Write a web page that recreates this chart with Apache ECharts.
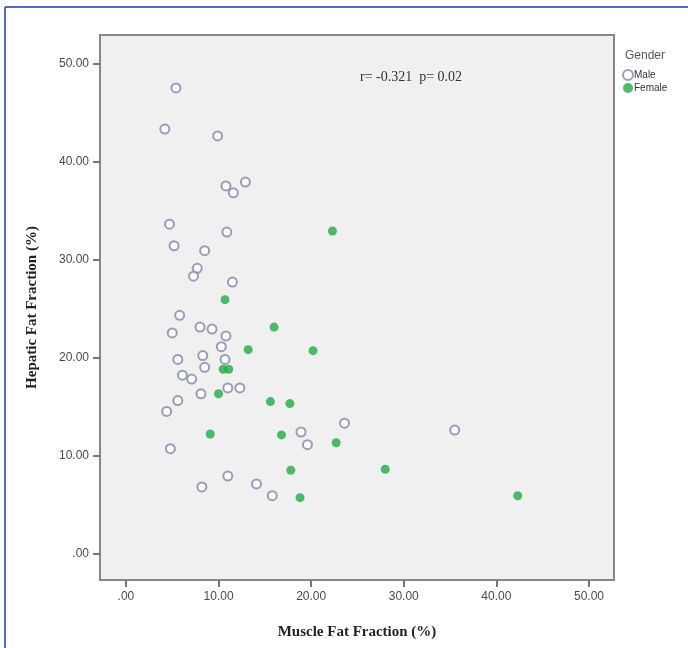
<!DOCTYPE html>
<html>
<head>
<meta charset="utf-8">
<script src="https://cdn.jsdelivr.net/npm/echarts@6/dist/echarts.min.js"></script>
<style>
  html, body { margin: 0; padding: 0; background: #fff; }
  #main { width: 688px; height: 648px; }
</style>
</head>
<body>
<div id="main"></div>
<script>
// muscle fat fraction (x) / hepatic fat fraction (y)
const maleX = [5.4, 4.2, 9.9, 10.8, 11.6, 12.9, 4.7, 10.9, 5.2, 8.5, 7.7, 7.3, 11.5,
  5.8, 8.0, 9.3, 5.0, 10.8, 10.3, 5.6, 8.3, 10.7, 8.5, 6.1, 7.1, 11.0, 12.3, 8.1,
  5.6, 4.4, 23.6, 18.9, 19.6, 4.8, 35.5, 11.0, 14.1, 8.2, 15.8];
const maleY = [47.5, 43.3, 42.6, 37.5, 36.8, 37.9, 33.6, 32.8, 31.4, 30.9, 29.1, 28.3, 27.7,
  24.3, 23.1, 22.9, 22.5, 22.2, 21.1, 19.8, 20.2, 19.8, 19.0, 18.2, 17.8, 16.9, 16.9, 16.3,
  15.6, 14.5, 13.3, 12.4, 11.1, 10.7, 12.6, 7.9, 7.1, 6.8, 5.9];
const femaleX = [22.3, 10.7, 16.0, 13.2, 20.2, 10.5, 11.1, 10.0, 15.6, 17.7, 9.1, 16.8,
  22.7, 17.8, 28.0, 18.8, 42.3];
const femaleY = [32.9, 25.9, 23.1, 20.8, 20.7, 18.8, 18.8, 16.3, 15.5, 15.3, 12.2, 12.1,
  11.3, 8.5, 8.6, 5.7, 5.9];
const tickValues = [0, 10, 20, 30, 40, 50];
const statText = 'r= -0.321  p= 0.02';

const pairs = (xs, ys) => xs.map((x, i) => [x, ys[i]]);
const fmt = v => (v === 0 ? '.00' : v.toFixed(2));

const chart = echarts.init(document.getElementById('main'));

const axisCommon = {
  type: 'value',
  splitLine: { show: false },
  axisLine: { show: false, onZero: false },
  axisTick: {
    show: true,
    customValues: tickValues,
    length: 7,
    lineStyle: { color: '#777', width: 2 }
  },
  axisLabel: {
    customValues: tickValues,
    formatter: fmt,
    color: '#4a4a4a',
    fontFamily: 'Liberation Sans, Arial, sans-serif',
    fontSize: 12,
    margin: 11
  },
  nameLocation: 'middle',
  nameTextStyle: {
    fontFamily: 'Liberation Serif, Times New Roman, serif',
    fontWeight: 'bold',
    fontSize: 15,
    color: '#222'
  }
};

chart.setOption({
  animation: false,
  backgroundColor: '#fff',
  grid: {
    left: 100, top: 35, right: 74, bottom: 68,
    show: true,
    backgroundColor: '#f0f0f0',
    borderColor: '#888',
    borderWidth: 2
  },
  xAxis: Object.assign({}, axisCommon, {
    min: -2.8, max: 52.7,
    name: 'Muscle Fat Fraction (%)',
    nameGap: 45
  }),
  yAxis: Object.assign({}, axisCommon, {
    min: -2.7, max: 52.9,
    name: 'Hepatic Fat Fraction (%)',
    nameGap: 60
  }),
  legend: {
    left: 617, top: 64,
    orient: 'vertical',
    itemWidth: 10, itemHeight: 10, itemGap: 2,
    icon: 'circle',
    textStyle: { fontFamily: 'Liberation Sans, Arial, sans-serif', fontSize: 10, color: '#333', padding: [0, 0, 0, -4] },
    data: ['Male', 'Female']
  },
  title: {
    text: 'Gender',
    left: 620, top: 45,
    textStyle: { fontFamily: 'Liberation Sans, Arial, sans-serif', fontSize: 12, fontWeight: 'normal', color: '#555' }
  },
  graphic: [
    { type: 'line', shape: { x1: 5, y1: 7, x2: 5, y2: 648 }, style: { stroke: '#4f6fb8', lineWidth: 2 } },
    { type: 'line', shape: { x1: 5, y1: 7, x2: 688, y2: 7 }, style: { stroke: '#4f6fb8', lineWidth: 2 } },
    {
      type: 'text', left: 360, top: 70,
      style: { text: statText, fontFamily: 'Liberation Serif, Times New Roman, serif', fontSize: 14, fill: '#333' }
    }
  ],
  series: [
    {
      name: 'Male',
      type: 'scatter',
      symbol: 'circle',
      symbolSize: 9,
      itemStyle: { color: '#fff', borderColor: '#8087ab', borderWidth: 2 },
      data: pairs(maleX, maleY)
    },
    {
      name: 'Female',
      type: 'scatter',
      symbol: 'circle',
      symbolSize: 9,
      itemStyle: { color: '#22ab45' },
      data: pairs(femaleX, femaleY)
    }
  ]
});
</script>
</body>
</html>
